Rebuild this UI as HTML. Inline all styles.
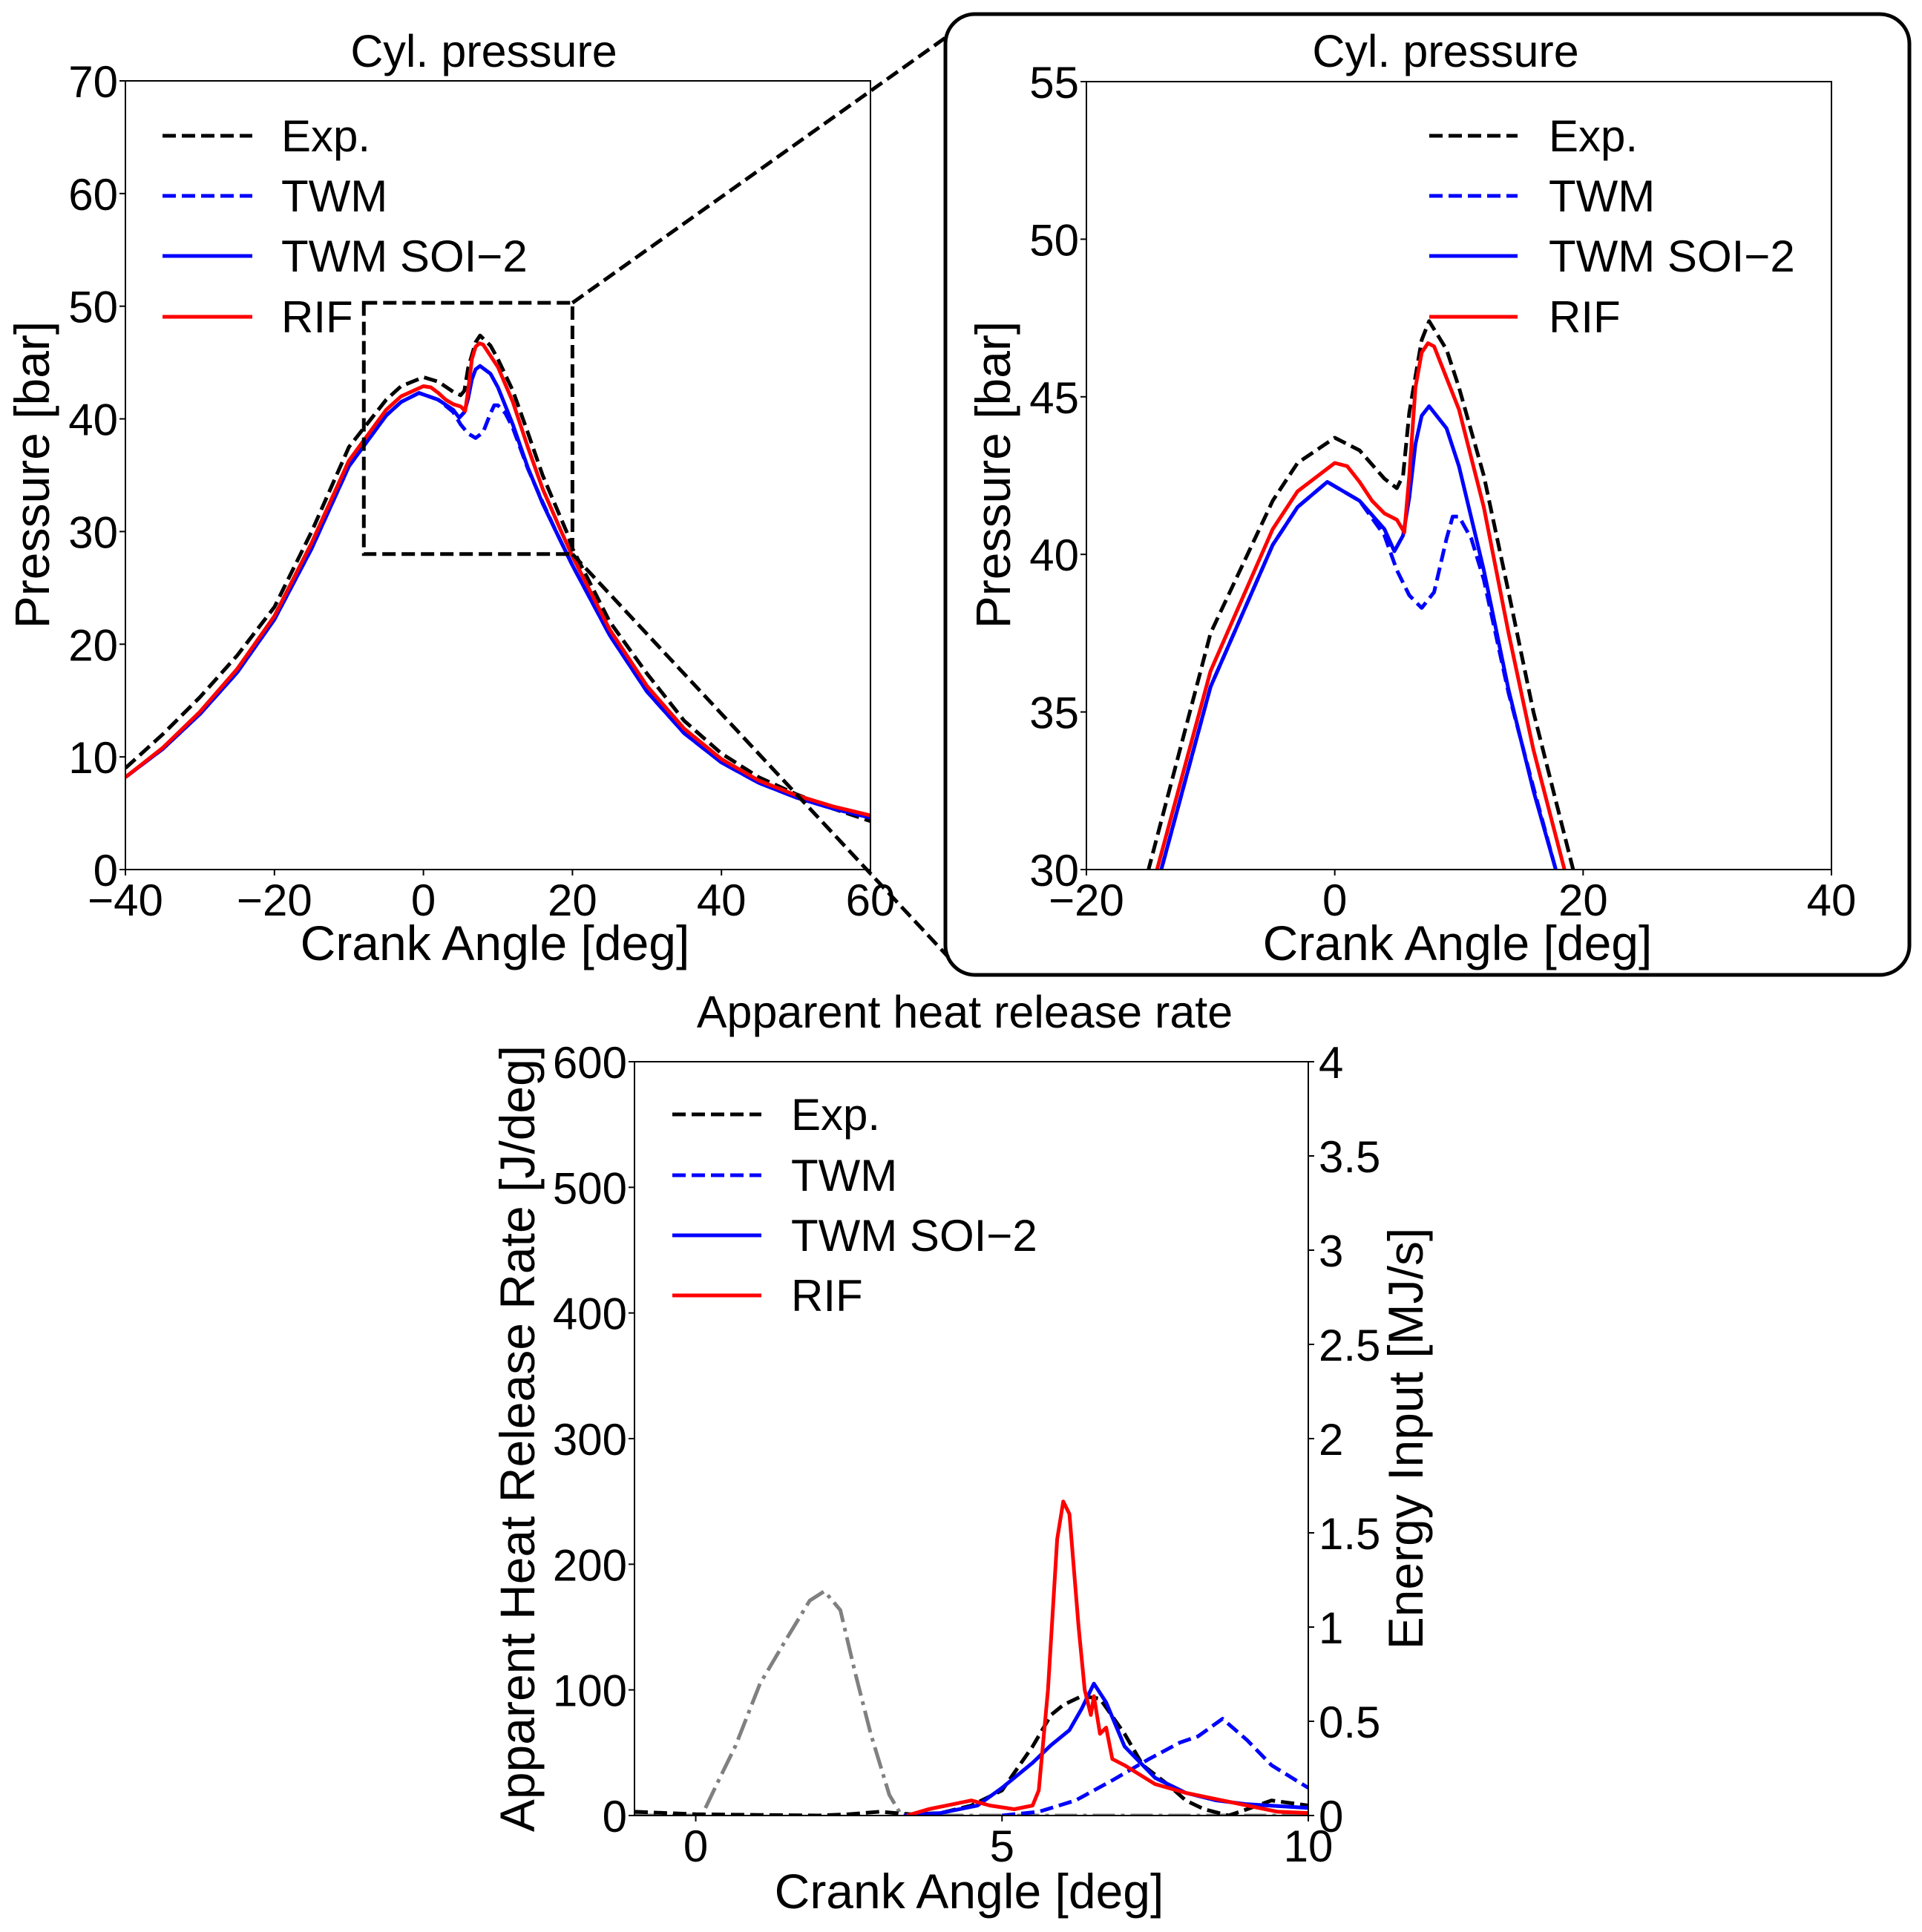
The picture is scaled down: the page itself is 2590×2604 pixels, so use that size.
<!DOCTYPE html>
<html><head><meta charset="utf-8"><style>
html,body{margin:0;padding:0;background:#fff}
svg{display:block;font-family:"Liberation Sans",sans-serif}
</style></head><body>
<svg id="fig" width="2590" height="2604" viewBox="0 0 2590 2604" xmlns="http://www.w3.org/2000/svg">
<defs>
<clipPath id="c1"><rect x="169" y="109" width="1004" height="1063"/></clipPath>
<clipPath id="c2"><rect x="1464" y="110" width="1004" height="1062"/></clipPath>
<clipPath id="c3"><rect x="855" y="1431" width="908" height="1016"/></clipPath>
</defs>
<rect x="1274" y="19" width="1299" height="1295" rx="40" ry="40" fill="none" stroke="#000" stroke-width="5"/>
<g id="g1"></g>
<g id="g2"></g>
<g id="g3"></g>
</svg>
<script>
// pressure data (crank angle deg, bar)
const expX = [-40,-35,-30,-25,-20,-15,-10,-5,-3,0,2,4,5,5.5,6,7,7.6,9,10,12,14,16,19.2,20,25,30,35,40,45,50,55,60];
const expY = [9.0,12.0,15.3,19.0,23.3,30.0,37.5,41.7,42.9,43.7,43.3,42.4,42.1,42.5,44.5,46.8,47.4,46.5,45.3,42.5,38.8,35.0,30.0,28.5,22.0,17.4,13.2,10.3,8.2,6.7,5.4,4.3];
const rifX = [-40,-35,-30,-25,-20,-15,-10,-5,-3,0,1,2,3,4,5,5.6,6,6.5,7,7.5,8,10,12,14,16,18.5,20,25,30,35,40,45,50,55,60];
const rifY = [8.2,10.8,14.0,17.8,22.5,29.0,36.3,40.8,42.0,42.9,42.8,42.3,41.7,41.3,41.1,40.7,42.5,45.3,46.4,46.7,46.6,44.6,41.5,37.5,33.8,30.0,27.8,21.3,16.3,12.5,9.8,7.9,6.6,5.6,4.8];
const soiX = [-40,-35,-30,-25,-20,-15,-10,-5,-3,-0.6,2,4,4.8,5.5,6,6.5,7,7.6,9,10,12,14,16,17.8,20,25,30,35,40,45,50,55,60];
const soiY = [8.2,10.7,13.8,17.5,22.2,28.5,35.8,40.3,41.5,42.3,41.7,40.8,40.1,40.6,41.8,43.5,44.4,44.7,44.0,42.8,39.5,35.7,32.5,30.0,27.0,20.8,15.8,12.1,9.5,7.7,6.4,5.4,4.6];
const twmX = [-40,-35,-30,-25,-20,-15,-10,-5,-3,-0.6,2,4,5,6,7,8,9,9.5,10,11,12,14,16,17.8,20,25,30,35,40,45,50,55,60];
const twmY = [8.2,10.7,13.8,17.5,22.2,28.5,35.8,40.3,41.5,42.3,41.7,40.6,39.5,38.7,38.3,38.8,40.5,41.2,41.2,40.5,39.2,35.6,32.6,30.0,27.0,20.8,15.8,12.1,9.5,7.7,6.4,5.4,4.6];
// heat release data
const hExpX = [-1,0,1,2,2.5,3,3.5,4,4.5,5,5.5,5.8,6,6.3,6.6,7,7.3,7.7,8,8.3,8.7,9,9.4,10];
const hExpY = [3,1,0.5,0,1,3,1,2,8,20,55,80,88,95,93,65,40,25,12,5,0,5,12,8];
const hRifX = [3.45,3.8,4.3,4.5,4.8,5.2,5.5,5.6,5.75,5.9,6.0,6.1,6.25,6.35,6.45,6.5,6.6,6.7,6.8,7.0,7.5,8,9,9.5,10];
const hRifY = [0,5,10,12,8,5,8,20,100,220,250,240,150,100,80,95,65,70,45,40,25,18,8,3,2];
const hSoiX = [3.4,4,4.6,5,5.5,5.8,6.1,6.3,6.5,6.7,7,7.5,8,8.5,9,10];
const hSoiY = [0,2,8,22,42,56,68,85,105,90,55,30,18,12,9,6];
const hTwmX = [5,5.6,6.2,6.8,7.4,7.9,8.2,8.6,9.0,9.4,10];
const hTwmY = [0,3,12,28,45,58,63,77,60,40,22];
const eX = [-1,0.1,0.35,0.65,1.05,1.45,1.86,2.1,2.36,2.6,2.86,3.16,3.36,10];
const eY = [0,0,0.17,0.37,0.70,0.92,1.14,1.19,1.09,0.76,0.43,0.11,0,0];
const p1Ticks = [0,10,20,30,40,50,60,70];
const p1XTicks = [-40,-20,0,20,40,60];
const p2Ticks = [30,35,40,45,50,55];
const p2XTicks = [-20,0,20,40];
const hYTicks = [0,100,200,300,400,500,600];
const hRTicks = [0,0.5,1,1.5,2,2.5,3,3.5,4];
const hRLabels = ["0","0.5","1","1.5","2","2.5","3","3.5","4"];
const hXTicks = [0,5,10];

const NS="http://www.w3.org/2000/svg";
const TF=60, LF=66;
function mk(parent,tag,attrs){const e=document.createElementNS(NS,tag);for(const k in attrs)e.setAttribute(k,attrs[k]);parent.appendChild(e);return e;}
function lin(d0,d1,r0,r1){return v=>r0+(v-d0)*(r1-r0)/(d1-d0);}
function fmt(v){return v<0?"\u2212"+(-v):String(v);}
function txt(parent,x,y,s,size,anchor,rot){const t=mk(parent,"text",{x:x,y:y,"font-size":size,"text-anchor":anchor||"middle",fill:"#000"});if(rot)t.setAttribute("transform","rotate(-90 "+x+" "+y+")");t.textContent=s;return t;}
function path(parent,xs,ys,sx,sy,color,dash,clip){let d="";for(let i=0;i<xs.length;i++)d+=(i?"L":"M")+sx(xs[i]).toFixed(1)+","+sy(ys[i]).toFixed(1);const p=mk(parent,"path",{d:d,fill:"none",stroke:color,"stroke-width":5,"stroke-linejoin":"round","clip-path":"url(#"+clip+")"});if(dash)p.setAttribute("stroke-dasharray",dash);return p;}
const DASH="18,8", DASHDOT="30,8,5,8";

function legend(g,x0,x1,tx,ys){
  const items=[["Exp.","#000",DASH],["TWM","#0000ff",DASH],["TWM SOI\u22122","#0000ff",null],["RIF","#ff0000",null]];
  items.forEach((it,i)=>{
    const l=mk(g,"line",{x1:x0,x2:x1,y1:ys[i],y2:ys[i],stroke:it[1],"stroke-width":5});
    
    
    if(it[2])l.setAttribute("stroke-dasharray",it[2]);
    const t=txt(g,tx,ys[i]+21,it[0],TF,"start");
    
    
  });
}
function axesBox(g,L,T,R,B){const r=mk(g,"rect",{x:L,y:T,width:R-L,height:B-T,fill:"none",stroke:"#000","stroke-width":2});}
function xTicks(g,ticks,sx,B,labels){ticks.forEach((v,i)=>{mk(g,"line",{x1:sx(v),x2:sx(v),y1:B,y2:B+8,stroke:"#000","stroke-width":2});const t=txt(g,sx(v),B+62,labels?labels[i]:fmt(v),TF,"middle");});}
function yTicks(g,ticks,sy,L,labels,right){ticks.forEach((v,i)=>{mk(g,"line",{x1:L,x2:right?L+8:L-8,y1:sy(v),y2:sy(v),stroke:"#000","stroke-width":2});const t=txt(g,right?L+14:L-10,sy(v)+22,labels?labels[i]:fmt(v),TF,right?"start":"end");});}

// Chart 1
(function(){
  const g=document.getElementById("g1");
  const L=169,R=1173,T=109,B=1172;
  const sx=lin(-40,60,L,R), sy=lin(0,70,B,T);
  path(g,expX,expY,sx,sy,"#000",DASH,"c1");
  path(g,twmX,twmY,sx,sy,"#0000ff",DASH,"c1");
  path(g,soiX,soiY,sx,sy,"#0000ff",null,"c1");
  path(g,rifX,rifY,sx,sy,"#ff0000",null,"c1");
  axesBox(g,L,T,R,B);
  xTicks(g,p1XTicks,sx,B); yTicks(g,p1Ticks,sy,L);
  const zb=mk(g,"rect",{x:sx(-8),y:sy(50.3),width:sx(20)-sx(-8),height:sy(28)-sy(50.3),fill:"none",stroke:"#000","stroke-width":5,"stroke-dasharray":DASH});
  
  const c1=mk(g,"line",{x1:sx(20),y1:sy(50.3),x2:1278,y2:48,stroke:"#000","stroke-width":5,"stroke-dasharray":DASH});
  
  const c2=mk(g,"line",{x1:sx(20),y1:sy(28),x2:1278,y2:1290,stroke:"#000","stroke-width":5,"stroke-dasharray":DASH});
  
  txt(g,652,90,"Cyl. pressure",61,"middle");
  txt(g,667,1294,"Crank Angle [deg]",LF,"middle");
  txt(g,66,640,"Pressure [bar]",LF,"middle",true);
  legend(g,219,340,379,[183,264,345,427]);
})();
// Chart 2
(function(){
  const g=document.getElementById("g2");
  const L=1464,R=2468,T=110,B=1172;
  const sx=lin(-20,40,L,R), sy=lin(30,55,B,T);
  path(g,expX,expY,sx,sy,"#000",DASH,"c2");
  path(g,twmX,twmY,sx,sy,"#0000ff",DASH,"c2");
  path(g,soiX,soiY,sx,sy,"#0000ff",null,"c2");
  path(g,rifX,rifY,sx,sy,"#ff0000",null,"c2");
  axesBox(g,L,T,R,B);
  xTicks(g,p2XTicks,sx,B); yTicks(g,p2Ticks,sy,L);
  txt(g,1948,90,"Cyl. pressure",61,"middle");
  txt(g,1964,1294,"Crank Angle [deg]",LF,"middle");
  txt(g,1361,640,"Pressure [bar]",LF,"middle",true);
  legend(g,1926,2045,2087,[183,264,345,427]);
})();
// Chart 3
(function(){
  const g=document.getElementById("g3");
  const L=855,R=1763,T=1431,B=2447;
  const sx=lin(-1,10,L,R), sy=lin(0,600,B,T), sr=lin(0,4,B,T);
  path(g,eX,eY,sx,sr,"#808080",DASHDOT,"c3");
  path(g,hExpX,hExpY,sx,sy,"#000",DASH,"c3");
  path(g,hTwmX,hTwmY,sx,sy,"#0000ff",DASH,"c3");
  path(g,hSoiX,hSoiY,sx,sy,"#0000ff",null,"c3");
  path(g,hRifX,hRifY,sx,sy,"#ff0000",null,"c3");
  axesBox(g,L,T,R,B);
  xTicks(g,hXTicks,sx,B); yTicks(g,hYTicks,sy,L); yTicks(g,hRTicks,sr,R,hRLabels,true);
  txt(g,1300,1385,"Apparent heat release rate",61,"middle");
  txt(g,1306,2572,"Crank Angle [deg]",LF,"middle");
  txt(g,720,1939,"Apparent Heat Release Rate [J/deg]",LF,"middle",true);
  txt(g,1917,1939,"Energy Input [MJ/s]",LF,"middle",true);
  legend(g,906,1026,1066,[1502,1584,1665,1746]);
})();
</script>
</body></html>
